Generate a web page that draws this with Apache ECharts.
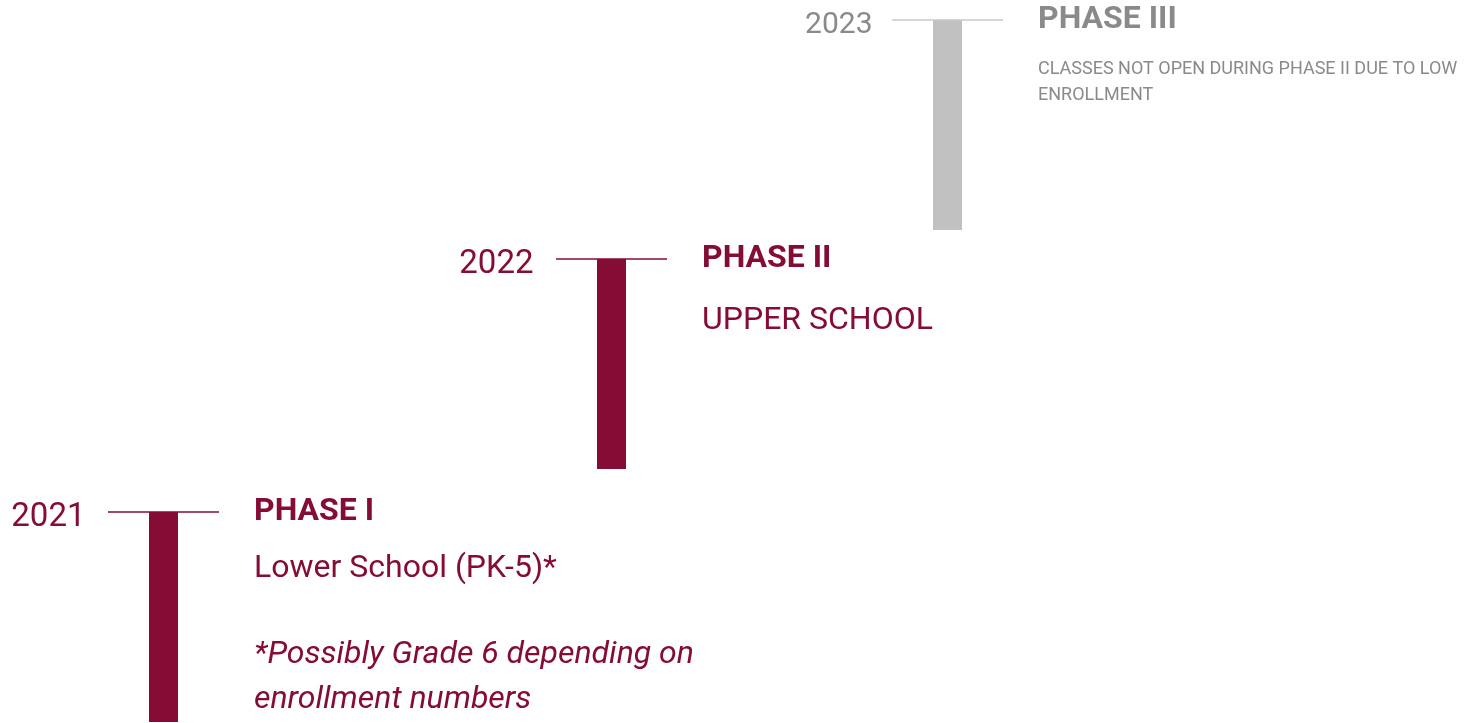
<!DOCTYPE html>
<html>
<head>
<meta charset="utf-8">
<script src="https://cdn.jsdelivr.net/npm/echarts@6/dist/echarts.min.js"></script>
<style type="text/css">
html, body{margin:0;padding:0;background:#fff;}
#main{width:1482px;height:723px;}
</style>
</head>
<body>
<div id="main"></div>
<script>
    // phase data
    var years = ['2021', '2022', '2023'];
    var phaseTitles = ['PHASE I', 'PHASE II', 'PHASE III'];
    var phaseNotes = ['Lower School (PK-5)*', 'UPPER SCHOOL', 'CLASSES NOT OPEN DURING PHASE II DUE TO LOW\nENROLLMENT'];
    var footNotes = ['*Possibly Grade 6 depending on\nenrollment numbers', '', ''];
    var phaseOpen = [true, true, false];
    // position of each phase on the timeline (x = step, y = start / end level)
    var stepX = [163.5, 611.5, 947.5];
    var levelStart = [512, 259, 20];
    var levelEnd = [722, 469, 230];

    var MAROON = '#850d35';
    var GREY = '#8a8a8a';
    var FONT = 'Roboto, "Noto Sans", sans-serif';

    var chart = echarts.init(document.getElementById('main'));

    var seriesData = years.map(function (y, i) {
        return [stepX[i], levelStart[i], levelEnd[i], i];
    });

    function renderItem(params, api) {
        var i = api.value(3);
        var top = api.coord([api.value(0), api.value(1)]);
        var bot = api.coord([api.value(0), api.value(2)]);
        var cx = top[0], T = top[1];
        var bw = api.size([29, 0])[0];
        var open = phaseOpen[i];
        var txtColor = open ? MAROON : GREY;
        var noteOff = i === 0 ? 57 : 62;   // baseline tweak per row
        var kids = [
            {
                type: 'rect',
                shape: {x: cx - bw / 2, y: T, width: bw, height: bot[1] - T},
                style: {fill: open ? MAROON : '#c1c1c1'}
            },
            {
                type: 'line',
                shape: {x1: cx - 55.5, y1: T, x2: cx + 55.5, y2: T},
                style: {stroke: open ? MAROON : '#c8c8c8', lineWidth: 1.5}
            },
            {
                type: 'text',
                style: {
                    text: years[i], x: cx - (open ? 78 : 75), y: T + (open ? 6 : 5),
                    align: 'right', verticalAlign: 'middle',
                    font: (open ? 33 : 30) + 'px ' + FONT, fill: txtColor
                }
            },
            {
                type: 'text',
                style: {
                    text: phaseTitles[i], x: cx + 90.5, y: T,
                    align: 'left', verticalAlign: 'middle',
                    font: 'bold 32px ' + FONT, fill: txtColor
                }
            }
        ];
        if (open) {
            kids.push({
                type: 'text',
                style: {
                    text: phaseNotes[i], x: cx + 90.5, y: T + noteOff,
                    align: 'left', verticalAlign: 'middle',
                    font: '32px ' + FONT, fill: txtColor
                }
            });
        } else {
            kids.push({
                type: 'text',
                style: {
                    text: phaseNotes[i], x: cx + 90.5, y: T + 36.3,
                    align: 'left', verticalAlign: 'top', lineHeight: 26,
                    font: '18px ' + FONT, fill: txtColor
                }
            });
        }
        if (footNotes[i]) {
            kids.push({
                type: 'text',
                style: {
                    text: footNotes[i], x: cx + 90.5, y: T + 120.4,
                    align: 'left', verticalAlign: 'top', lineHeight: 45,
                    font: 'italic 32px ' + FONT, fill: txtColor
                }
            });
        }
        return {type: 'group', children: kids};
    }

    var option = {
        backgroundColor: '#fff',
        animation: false,
        grid: {left: 0, right: 0, top: 0, bottom: 0},
        xAxis: {type: 'value', min: 0, max: 1482, show: false},
        yAxis: {type: 'value', min: 0, max: 723, inverse: true, show: false},
        series: [{
            type: 'custom',
            renderItem: renderItem,
            data: seriesData,
            clip: false,
            encode: {x: 0, y: [1, 2]}
        }]
    };

    chart.setOption(option);
</script>
</body>
</html>
